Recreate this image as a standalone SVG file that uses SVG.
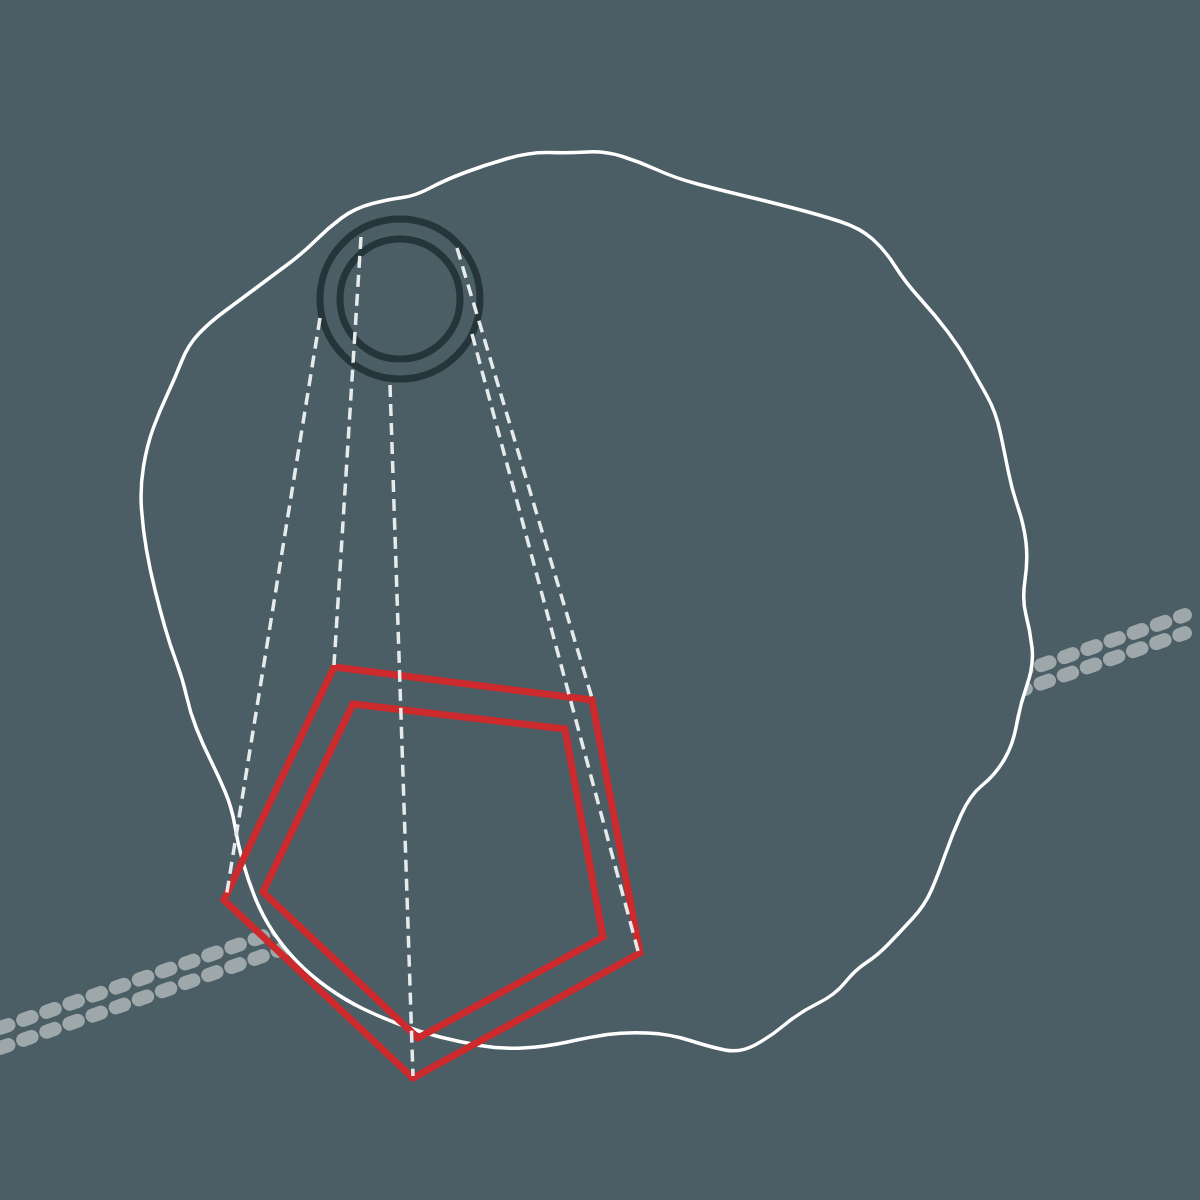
<svg xmlns="http://www.w3.org/2000/svg" width="1200" height="1200" viewBox="0 0 1200 1200">
<style>
.bg{fill:#4b5e65}
.rail{fill:none;stroke:#9ea8aa;stroke-width:14;stroke-linecap:round;stroke-dasharray:9 15.5}
.blob{fill:#4b5e65;stroke:#ffffff;stroke-width:3.5}
.ring{fill:none;stroke:#263539;stroke-width:7}
.pent{fill:none;stroke:#cc2a2d;stroke-width:7;stroke-linejoin:miter}
.ray{fill:none;stroke:#e6eaeb;stroke-width:3.5;stroke-dasharray:12 7}
</style>
<rect class="bg" x="0" y="0" width="1200" height="1200"/>
<g id="rails">
<line class="rail" x1="0" y1="1028" x2="1185" y2="615"/>
<line class="rail" x1="0" y1="1048" x2="1185" y2="633"/>
</g>
<g id="blob">
<path class="blob" d="M507.5,158.5 Q530,152 550,152.5 Q570,153 587.5,152 Q605,151 622.5,156.5 Q640,162 657.5,170 Q675,178 697.5,184 Q720,190 745,196 Q770,202 795,208.5 Q820,215 840,221.5 Q860,228 872.5,239 Q885,250 895,266 Q905,282 920,298.5 Q935,315 947.5,331.5 Q960,348 969,364 Q978,380 987,396 Q996,412 1000.5,433.5 Q1005,455 1008.5,472.5 Q1012,490 1018,507.5 Q1024,525 1026,542.5 Q1028,560 1025,580 Q1022,600 1026,615 Q1030,630 1032,647.5 Q1034,665 1027,685 Q1020,705 1016.5,725 Q1013,745 1004,760 Q995,775 982.5,785 Q970,795 961,815 Q952,835 945,855 Q938,875 931.5,890 Q925,905 912.5,918.5 Q900,932 889,943.5 Q878,955 866.5,962.5 Q855,970 845,982.5 Q835,995 817.5,1003.5 Q800,1012 785,1024.5 Q770,1037 755,1045 Q740,1053 725,1050 Q710,1047 690,1040.5 Q670,1034 647.5,1033 Q625,1032 607.5,1034.5 Q590,1037 567.5,1042 Q545,1047 522.5,1048 Q500,1049 480,1045.5 Q460,1042 440,1037 Q420,1032 400,1024.5 Q380,1017 362.5,1008.5 Q345,1000 327.5,987.5 Q310,975 296.5,961 Q283,947 272.5,931 Q262,915 255,897.5 Q248,880 243,862.5 Q238,845 235,826.5 Q232,808 225,791.5 Q218,775 210.5,760 Q203,745 196.5,728.5 Q190,712 186.5,696 Q183,680 176.5,662.5 Q170,645 165,627.5 Q160,610 155,590 Q150,570 146.5,550 Q143,530 141.5,509 Q140,488 143.5,466.5 Q147,445 153.5,427.5 Q160,410 167.5,394 Q175,378 181.5,361.5 Q188,345 199,333.5 Q210,322 225,311 Q240,300 256,288 Q272,276 287.5,264.5 Q303,253 315.5,240.5 Q328,228 341.5,218 Q355,208 372.5,203.5 Q390,199 402.5,197.5 Q415,196 430,188 Q445,180 465,172.5 Q485,165 507.5,158.5 Z"/>
</g>
<g id="lens">
<circle class="ring" cx="400" cy="299" r="80"/>
<circle class="ring" cx="400" cy="299" r="60"/>
</g>
<g id="pentagons">
<polygon class="pent" points="334,667 592,700 640,953 413,1078 224,900"/>
<polygon class="pent" points="353,704 565,729 603,937 418,1038 263,892"/>
</g>
<g id="rays">
<line class="ray" x1="320" y1="318" x2="226" y2="898"/>
<line class="ray" x1="361" y1="237" x2="334" y2="665"/>
<line class="ray" x1="390" y1="385" x2="413" y2="1076"/>
<line class="ray" x1="457" y1="248" x2="592" y2="698"/>
<line class="ray" x1="472" y1="334" x2="638" y2="951"/>
</g>
</svg>
